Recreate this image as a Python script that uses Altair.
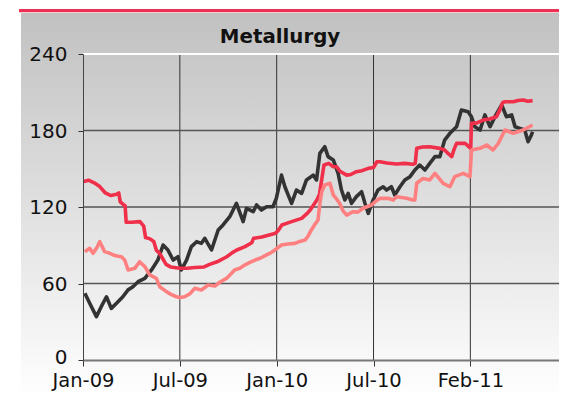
import altair as alt
import pandas as pd

# x = trading-week index (0 = Jan-09, 26 = Jul-09, 52 = Jan-10, 78 = Jul-10, 104 = Feb-11)
tick_weeks = [0, 26, 52, 78, 104]
tick_labels = ["Jan-09", "Jul-09", "Jan-10", "Jul-10", "Feb-11"]
y_ticks = [0, 60, 120, 180, 240]

black_series = [
    (0.5, 52.3), (1.8, 44.5), (3.6, 34), (4.9, 41.8), (6.3, 49.6), (7.6, 40.5), (9.0, 44.5),
    (10.7, 49.6), (12.1, 55), (13.4, 57.5), (14.8, 61.4), (16.6, 64), (18.4, 70.6), (20.1, 78.4),
    (21.5, 90.2), (22.8, 86.3), (24.2, 78.4), (25.5, 81), (26.4, 70.6), (27.8, 78.4), (29.1, 88.9),
    (30.5, 92.8), (31.8, 91.5), (32.7, 95.4), (34.5, 86.3), (36.3, 102), (37.6, 105.9), (39.4, 112.4),
    (41.2, 122.9), (43.0, 108.5), (43.9, 119), (45.7, 116.3), (46.6, 121.6), (47.9, 117.6),
    (49.3, 120.2), (51.0, 120.2), (51.9, 126.8), (53.3, 145), (54.2, 135.9), (56.0, 122.9),
    (57.3, 133.3), (58.7, 130.7), (60.0, 141.2), (61.8, 145), (62.7, 141.2), (63.6, 162.1),
    (64.9, 167.3), (65.8, 159.5), (67.2, 156.9), (68.5, 146.4), (69.4, 133.3), (70.3, 125.5),
    (71.2, 130.7), (72.1, 122.9), (73.4, 128.1), (74.8, 132), (75.7, 122.9), (76.6, 115),
    (77.9, 125.5), (79.2, 133.3), (80.6, 135.9), (81.5, 133.3), (82.8, 135.9), (83.7, 129.4),
    (85.1, 135.9), (86.4, 141.2), (87.8, 143.8), (89.1, 149), (90.4, 152.9), (91.8, 149),
    (93.1, 154.2), (94.5, 159.5), (95.8, 159.5), (97.1, 172.5), (98.5, 177.8), (100.3, 183),
    (101.6, 196), (103.4, 194.7), (104.3, 190.8), (105.2, 183), (106.6, 180.4), (107.9, 192.2),
    (109.3, 183), (110.6, 190.8), (112.4, 200), (113.7, 190.8), (115.1, 192.2), (116.0, 183),
    (117.3, 181.7), (118.6, 180.4), (119.5, 171.2), (120.4, 176.5), (120.7, 179),
]

red_series = [
    (0.2, 140), (1.5, 141), (3, 139), (4.5, 136), (6, 131), (7.5, 129), (9, 130), (9.6, 131),
    (10, 124), (10.8, 122), (11.3, 121), (11.6, 108), (13, 108), (15.3, 108.5), (16.3, 105),
    (16.8, 96), (18, 95), (19, 93), (19.7, 86), (20.5, 84), (21.5, 79), (22.3, 75), (23.5, 73),
    (26, 72), (28, 72), (30, 72.5), (32.5, 73), (34, 75), (36, 77), (38.6, 81), (40, 84),
    (41.3, 86.3), (43.5, 88.9), (45.3, 92), (45.8, 95.4), (48, 96.5), (49, 97.3), (51.7, 99.4),
    (52.5, 102), (53.4, 105.9), (56, 108.5), (58.7, 111.1), (60.2, 115), (61, 117.6),
    (62.8, 125.5), (63.5, 130), (63.8, 136), (64.7, 152.9), (66, 154.2), (67.2, 151.6),
    (68.1, 151.6), (69, 148), (70.8, 145), (71.9, 145.5), (73.4, 147.7), (74.9, 148.5),
    (76.6, 150.3), (78, 151), (78.9, 155.5), (79.7, 155.5), (81.6, 154.5), (84.2, 153.7),
    (86.4, 154.2), (88.6, 153.5), (89.2, 154.2), (89.6, 166), (91.2, 167), (93.1, 167.3),
    (95.8, 166), (97.1, 164.7), (98, 162), (99, 159.5), (99.6, 165), (100.3, 169.9),
    (102.6, 169.9), (104.1, 166), (104.3, 185.6), (105.8, 186), (107.4, 188.2), (109.2, 189),
    (111, 190.8), (111.9, 196), (112.7, 202), (113.3, 202.6), (115.5, 202.6), (116.8, 203.5),
    (118.2, 203.9), (119.4, 203), (120.7, 203.4),
]

pink_series = [
    (0.5, 84.9), (1.8, 87.6), (2.7, 83.7), (3.7, 88), (4.5, 92.8), (5.8, 85), (6.9, 84),
    (8.1, 82.4), (9.1, 81.5), (10.3, 81), (11.2, 78.4), (12.1, 70.6), (13.9, 71.9), (15.2, 77.1),
    (16.6, 73.2), (17.9, 66.7), (19.7, 64), (20.6, 57.5), (22.4, 53.6), (23.6, 51.5), (25.1, 49.6),
    (26, 49), (27.3, 49.6), (28.7, 52), (30.0, 56.2), (31.8, 54.9), (33.6, 58.8), (35.4, 58),
    (36.7, 61), (38.5, 64), (39.7, 67.5), (40.7, 70.6), (42.1, 72), (43.4, 74.5), (44.8, 76.5),
    (46.2, 78.4), (47.7, 80), (49.3, 82.4), (50.4, 84), (51.5, 86.3), (53.3, 90.2), (55, 91),
    (56.9, 91.5), (58.2, 93), (59.6, 94.1), (60.4, 97), (61.3, 102), (62.2, 106), (63.1, 109.8),
    (63.6, 122.9), (64.1, 132), (64.9, 137.3), (66.3, 138.6), (67.2, 129.4), (67.6, 128.1),
    (68.9, 122.9), (69.8, 117), (70.8, 113.7), (72.5, 116.3), (73.8, 116), (75.2, 119),
    (77.5, 121.6), (78.6, 124.5), (79.7, 126.8), (81.9, 126.8), (83.3, 125.5), (84.2, 128.1),
    (86.9, 126.8), (88.6, 125.5), (89.1, 125.5), (89.6, 138.6), (91.3, 142.4), (93.1, 141.2),
    (94.5, 146.4), (96.7, 138.6), (98.5, 135.9), (99.8, 143.8), (102.1, 146.4), (103.9, 143.8),
    (104.3, 164.7), (106.6, 166), (108.4, 168.6), (110.1, 164.7), (111.5, 169.9), (113.3, 180.4),
    (115.5, 177.8), (118.2, 180.4), (120.7, 184.3),
]

FONT = "DejaVu Sans"
PLOT_W = 476
X_DOMAIN = [0, 127.8]
Y_DOMAIN = [0, 240]

xs = alt.Scale(domain=X_DOMAIN, nice=False, zero=False)
ys = alt.Scale(domain=Y_DOMAIN, nice=False)

label_expr = "[" + ",".join("'%s'" % t for t in tick_labels) + "][round(datum.value/26)]"

x_axis = alt.Axis(values=tick_weeks, labelExpr=label_expr, grid=False, title=None,
                  labelFont=FONT, labelFontSize=19.5, labelColor="#111", labelPadding=5.9,
                  tickSize=6, tickColor="#333", domainColor="#777", domainWidth=2,
                  labelFlush=False, zindex=1)
y_axis = alt.Axis(values=y_ticks, grid=False, title=None, labelFont=FONT, labelFontSize=20,
                  labelColor="#111", labelPadding=11, tickSize=5, tickColor="#333",
                  labelOffset={"condition": {"test": "datum.value === 0", "value": -2.5}, "value": 0.5},
                  domainColor="#444", domainWidth=1, zindex=1)

one = pd.DataFrame({"k": [0]})

bg = alt.Chart(one).mark_rect(
    clip=False,
    fill=alt.LinearGradient(gradient="linear", x1=0, x2=0, y1=0, y2=1,
                            stops=[alt.GradientStop(color="#c1c1c1", offset=0),
                                   alt.GradientStop(color="#ffffff", offset=1)]),
).encode(x=alt.value(-62), x2=alt.value(PLOT_W), y=alt.value(-41), y2=alt.value(346))

topbar = alt.Chart(one).mark_rule(clip=False, color="#ec3155", strokeWidth=3.3).encode(
    x=alt.value(-64), x2=alt.value(PLOT_W), y=alt.value(-43.3))

vgrid = alt.Chart(pd.DataFrame({"w": tick_weeks[1:]})).mark_rule(color="#333", strokeWidth=1).encode(
    x=alt.X("w:Q", scale=xs, axis=x_axis))
hgrid = alt.Chart(pd.DataFrame({"v": [60, 120, 180]})).mark_rule(color="#555", strokeWidth=1.5).encode(
    y=alt.Y("v:Q", scale=ys, axis=y_axis))
topgrid = alt.Chart(pd.DataFrame({"v": [240]})).mark_rule(color="#ffffff", strokeWidth=2).encode(
    y=alt.Y("v:Q", scale=ys))


def line(series, color):
    df = pd.DataFrame(series, columns=["w", "v"])
    return alt.Chart(df).mark_line(color=color, strokeWidth=3.6, strokeJoin="round").encode(
        x=alt.X("w:Q", scale=xs, axis=x_axis), y=alt.Y("v:Q", scale=ys, axis=y_axis))


title = alt.Chart(one).mark_text(clip=False, text="Metallurgy", font=FONT, fontSize=19.8,
                                 fontWeight="bold", color="#111", baseline="alphabetic",
                                 align="center").encode(x=alt.value(197), y=alt.value(-11))

chart = alt.layer(
    bg, topbar, vgrid, hgrid, topgrid,
    line(black_series, "#333333"),
    line(red_series, "#f0304a"),
    line(pink_series, "#ff8080"),
    title,
).properties(
    width=PLOT_W, height=306,
    autosize=alt.AutoSizeParams(type="none"),
    padding={"left": 75, "top": 46, "right": 0, "bottom": 32},
).configure_view(stroke=None)

chart.save("out.html", embed_options={"renderer": "svg", "actions": False})
